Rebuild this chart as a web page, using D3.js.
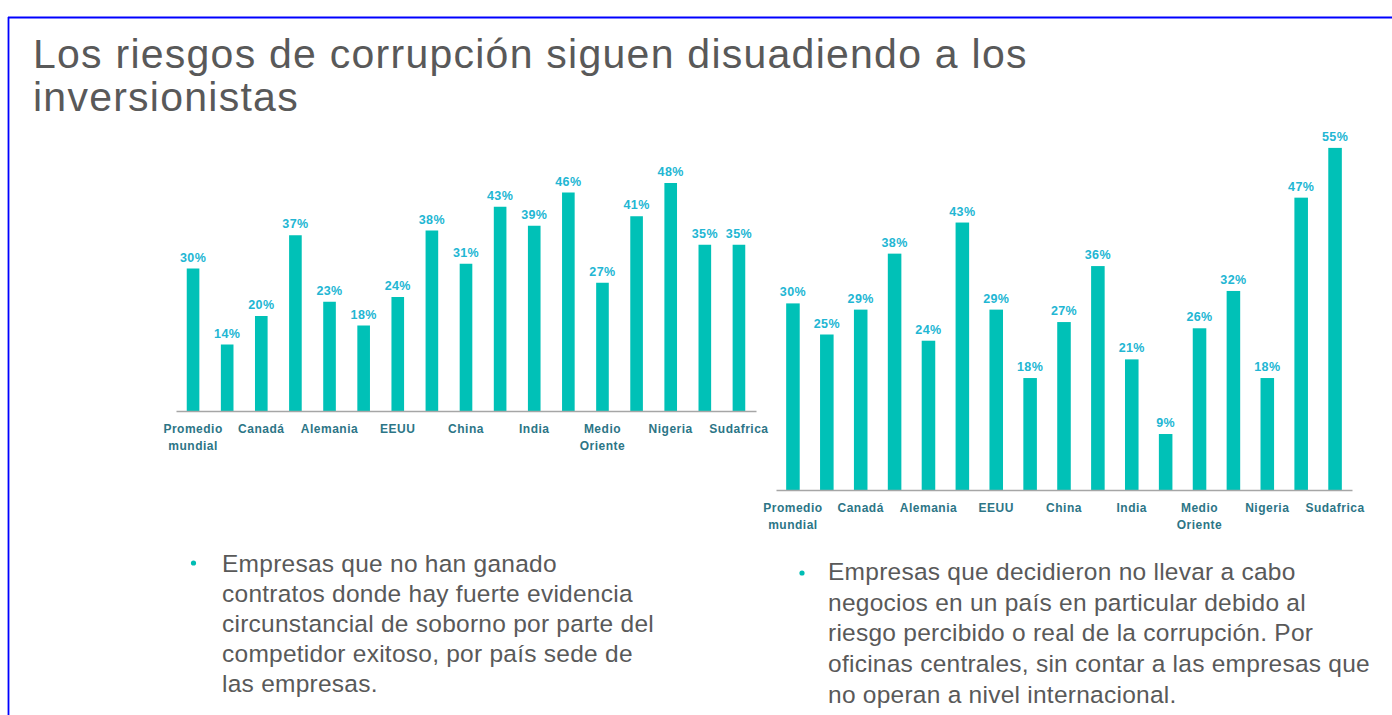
<!DOCTYPE html>
<html>
<head>
<meta charset="utf-8">
<script src="https://cdn.jsdelivr.net/npm/d3@7"></script>
<style>
  body { margin: 0; background: #ffffff; }
  text { font-family: "Liberation Sans", Arial, sans-serif; }
</style>
</head>
<body>
<script>
  // categorias: solo se rotula una de cada dos barras, como en el original
  let categorias = ["Promedio mundial", "", "Canadá", "", "Alemania", "", "EEUU", "", "China", "",
                    "India", "", "Medio Oriente", "", "Nigeria", "", "Sudafrica"];
  let contratosPerdidos = [30, 14, 20, 37, 23, 18, 24, 38, 31, 43, 39, 46, 27, 41, 48, 35, 35];
  let negociosEvitados = [30, 25, 29, 38, 24, 43, 29, 18, 27, 36, 21, 9, 26, 32, 18, 47, 55];
  let titulo = ["Los riesgos de corrupción siguen disuadiendo a los", "inversionistas"];
  let textoIzq = ["Empresas que no han ganado", "contratos donde hay fuerte evidencia",
                  "circunstancial de soborno por parte del", "competidor exitoso, por país sede de",
                  "las empresas."];
  let textoDer = ["Empresas que decidieron no llevar a cabo", "negocios en un país en particular debido al",
                  "riesgo percibido o real de la corrupción. Por", "oficinas centrales, sin contar a las empresas que",
                  "no operan a nivel internacional."];

  let width = 1392;
  let height = 715;
  let barColor = "#00c1b7";
  let valueColor = "#22b6d3";
  let labelColor = "#2c7586";
  let greyText = "#595959";

  let svg = d3.select("body").append("svg")
    .attr("width", width).attr("height", height);
  svg.append("rect")
    .attr("width", width).attr("height", height)
    .style("fill", "#ffffff");

  // marco azul de la diapositiva
  svg.append("line")
    .attr("x1", 8).attr("x2", width).attr("y1", 17.5).attr("y2", 17.5)
    .style("stroke", "#0000ff").style("stroke-width", 1.8);
  svg.append("line")
    .attr("x1", 8.5).attr("x2", 8.5).attr("y1", 17).attr("y2", height)
    .style("stroke", "#0000ff").style("stroke-width", 1.8);

  svg.append("text")
    .attr("x", 33).attr("y", 68)
    .style("font-size", "41px").style("letter-spacing", "1.25px")
    .style("fill", greyText)
    .selectAll("tspan")
    .data(titulo)
    .enter()
    .append("tspan")
      .attr("x", 33)
      .attr("dy", function(d, i) { return i == 0 ? 0 : 43; })
      .text(function(d) { return d; });

  function barChart(values, x0, x1, base, top, maxVal, pad, labelY) {
    let idx = d3.range(values.length);
    let x = d3.scaleBand().domain(idx).range([x0, x1])
      .paddingInner(pad).paddingOuter(pad / 2);
    let y = d3.scaleLinear().domain([0, maxVal]).range([base, top]);

    let g = svg.append("g");

    g.selectAll("rect")
      .data(values)
      .enter()
      .append("rect")
        .attr("x", function(d, i) { return x(i); })
        .attr("y", function(d) { return y(d); })
        .attr("width", x.bandwidth())
        .attr("height", function(d) { return base - y(d); })
        .style("fill", barColor);

    g.selectAll(".val")
      .data(values)
      .enter()
      .append("text")
        .attr("class", "val")
        .attr("x", function(d, i) { return x(i) + x.bandwidth() / 2; })
        .attr("y", function(d) { return y(d) - 7; })
        .attr("text-anchor", "middle")
        .style("font-size", "12.5px").style("font-weight", "bold")
        .style("letter-spacing", "0.4px")
        .style("fill", valueColor)
        .text(function(d) { return d + "%"; });

    let axis = d3.axisBottom(x).tickSize(0).tickFormat("");
    let ax = g.append("g")
      .attr("transform", "translate(0," + base + ")")
      .call(axis);
    ax.select(".domain").style("stroke", "#a6a6a6").style("stroke-width", 1.6);

    g.selectAll(".cat")
      .data(categorias)
      .enter()
      .append("text")
        .attr("class", "cat")
        .attr("text-anchor", "middle")
        .attr("y", labelY)
        .style("font-size", "12px").style("font-weight", "bold")
        .style("letter-spacing", "0.5px")
        .style("fill", labelColor)
        .each(function(d, i) {
          let cx = x(i) + x.bandwidth() / 2;
          let parts = (d == "Promedio mundial" || d == "Medio Oriente") ? d.split(" ") : [d];
          d3.select(this).selectAll("tspan")
            .data(parts)
            .enter()
            .append("tspan")
              .attr("x", cx)
              .attr("dy", function(p, j) { return j == 0 ? 0 : 16.5; })
              .text(function(p) { return p; });
        });
  }

  barChart(contratosPerdidos, 176, 756, 411, 173.5, 50, 0.63, 433);
  barChart(negociosEvitados, 776, 1352, 490, 147.9, 55, 0.6, 512);

  function bullet(lines, bx, by, tx, ty, lh) {
    svg.append("circle")
      .attr("cx", bx).attr("cy", by).attr("r", 2.6)
      .style("fill", "#00bdb4");
    svg.append("text")
      .attr("x", tx).attr("y", ty)
      .style("font-size", "24.5px").style("letter-spacing", "0.25px")
      .style("fill", greyText)
      .selectAll("tspan")
      .data(lines)
      .enter()
      .append("tspan")
        .attr("x", tx)
        .attr("dy", function(d, i) { return i == 0 ? 0 : lh; })
        .text(function(d) { return d; });
  }

  bullet(textoIzq, 193.5, 563, 222, 572, 30);
  bullet(textoDer, 802, 573, 828, 580, 30.7);
</script>
</body>
</html>
